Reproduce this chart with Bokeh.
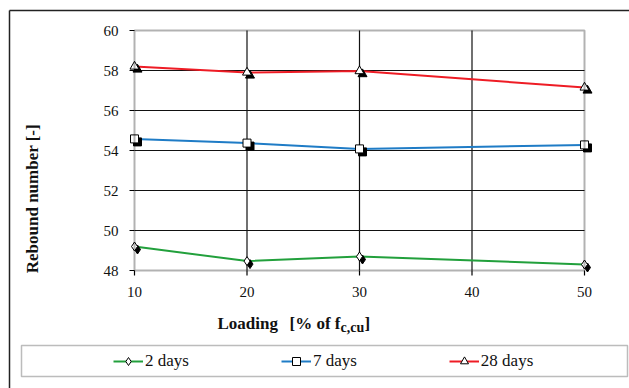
import math
from bokeh.plotting import figure
from bokeh.models import (Label, BoxAnnotation, Legend, LegendItem, Range1d,
                          ColumnDataSource)
from bokeh.transform import dodge
from bokeh.core.properties import value
from bokeh.embed import file_html
from bokeh.resources import INLINE

# ---------------- data ----------------
loading = [10, 20, 30, 50]
rebound_2_days = [49.2, 48.47, 48.7, 48.3]
rebound_7_days = [54.58, 54.37, 54.08, 54.28]
rebound_28_days = [58.2, 57.9, 57.97, 57.15]

x_ticks = [10, 20, 30, 40, 50]
y_ticks = [48, 50, 52, 54, 56, 58, 60]
x_tick_labels = [str(v) for v in x_ticks]
y_tick_labels = [str(v) for v in y_ticks]

series_names = ["2 days", "7 days", "28 days"]
series_values = [rebound_2_days, rebound_7_days, rebound_28_days]
series_colors = ["#22a03c", "#1f7cc6", "#ee1c25"]
series_markers = ["diamond", "square", "triangle"]
series_sizes = [9, 8, 9]

# ---------------- layout ----------------
W, H = 629, 388
BOX_L, BOX_R, BOX_T, BOX_B = 134, 584, 30, 270   # visible plot box (px)
FONT = "Liberation Serif"
TXT = "#111111"

x0, x1 = x_ticks[0], x_ticks[-1]
y0, y1 = y_ticks[0], y_ticks[-1]
ppx = (BOX_R - BOX_L) / (x1 - x0)
ppy = (BOX_B - BOX_T) / (y1 - y0)
xs, xe = x0 - BOX_L / ppx, x1 + (W - BOX_R) / ppx
ys, ye = y0 - (H - BOX_B) / ppy, y1 + BOX_T / ppy


def dx_px(px):
    return xs + px / ppx


def dy_px(py):
    return ye - py / ppy


p = figure(width=W, height=H, output_backend="svg", toolbar_location=None,
           x_range=Range1d(xs, xe), y_range=Range1d(ys, ye),
           x_axis_location=None, y_axis_location=None, min_border=0)
p.outline_line_color = None
p.outline_line_alpha = 0
p.outline_line_width = 0
p.background_fill_color = "white"
p.border_fill_color = "white"
p.xgrid.visible = False
p.ygrid.visible = False

# outer chart-area frame: only its top and left edges fall inside the picture
p.segment(x0=[dx_px(9), dx_px(9)], y0=[dy_px(10), dy_px(10)],
          x1=[dx_px(W + 20), dx_px(9)], y1=[dy_px(10), dy_px(H + 20)],
          line_color="#222222", line_width=1.5)

# grid lines
inner_x = x_ticks[1:-1]
inner_y = y_ticks[1:-1]
p.segment(x0=inner_x, y0=[y0] * len(inner_x), x1=inner_x, y1=[y1] * len(inner_x),
          line_color="#111111", line_width=1.2)
p.segment(x0=[x0] * len(inner_y), y0=inner_y, x1=[x1] * len(inner_y), y1=inner_y,
          line_color="#111111", line_width=1.2)

# tick marks
tick = 5
p.segment(x0=[x0 - tick / ppx] * len(y_ticks), y0=y_ticks, x1=[x0] * len(y_ticks),
          y1=y_ticks, line_color="black", line_width=1.2)
p.segment(x0=x_ticks, y0=[y0 - tick / ppy] * len(x_ticks), x1=x_ticks,
          y1=[y0] * len(x_ticks), line_color="black", line_width=1.2)

# plot box (axis lines)
p.add_layout(BoxAnnotation(left=x0, right=x1, bottom=y0, top=y1, fill_alpha=0,
                           line_color="black", line_width=2))

# tick labels
p.text(x=[x0] * len(y_ticks), y=y_ticks, text=y_tick_labels, x_offset=-16,
       text_align="right", text_baseline="middle", text_font=value(FONT),
       text_font_size="15px", text_color=TXT)
p.text(x=x_ticks, y=[y0] * len(x_ticks), text=x_tick_labels, y_offset=21,
       text_align="center", text_baseline="middle", text_font=value(FONT),
       text_font_size="15px", text_color=TXT)

# series
sdx = 3 / ppx
sdy = 3 / ppy
items = []
for name, vals, col, mk, sz in zip(series_names, series_values, series_colors,
                                    series_markers, series_sizes):
    src = ColumnDataSource(dict(x=loading, y=vals))
    lr = p.line("x", "y", source=src, line_color=col, line_width=2)
    p.scatter(x=dodge("x", sdx), y=dodge("y", -sdy), source=src, marker=mk, size=sz,
              fill_color="black", line_color="black")
    mr = p.scatter("x", "y", source=src, marker=mk, size=sz, fill_color="white",
                   line_color="black", line_width=1)
    items.append(LegendItem(label=name, renderers=[lr, mr]))

# legend box
p.add_layout(BoxAnnotation(left=dx_px(21), right=dx_px(627), top=dy_px(345),
                           bottom=dy_px(376), fill_alpha=0,
                           line_color="#222222", line_width=1.5))

legend = Legend(items=items, orientation="horizontal", location=(113, H - 371),
                padding=0, margin=0, spacing=92, label_standoff=2,
                glyph_width=30, glyph_height=20, border_line_alpha=0,
                background_fill_alpha=0, label_text_font=FONT,
                label_text_font_size="17px", label_text_color=TXT)
p.add_layout(legend)


# titles
def lab(text, x, y, size="17px", bold=True, angle=0, align="left", baseline="alphabetic"):
    p.add_layout(Label(text=text, x=dx_px(x), y=dy_px(y), angle=angle,
                       text_align=align, text_baseline=baseline,
                       text_font=FONT, text_font_size=size,
                       text_font_style="bold" if bold else "normal",
                       text_color=TXT))


lab("Rebound number  [-]", 32, 196, angle=math.pi / 2, align="center", baseline="middle")
lab("Loading", 217, 323)
lab("[% of f", 289, 323)
lab("c,cu", 340, 327, size="14px")
lab("]", 364, 323)

open("out.html", "w").write(file_html(p, INLINE))
